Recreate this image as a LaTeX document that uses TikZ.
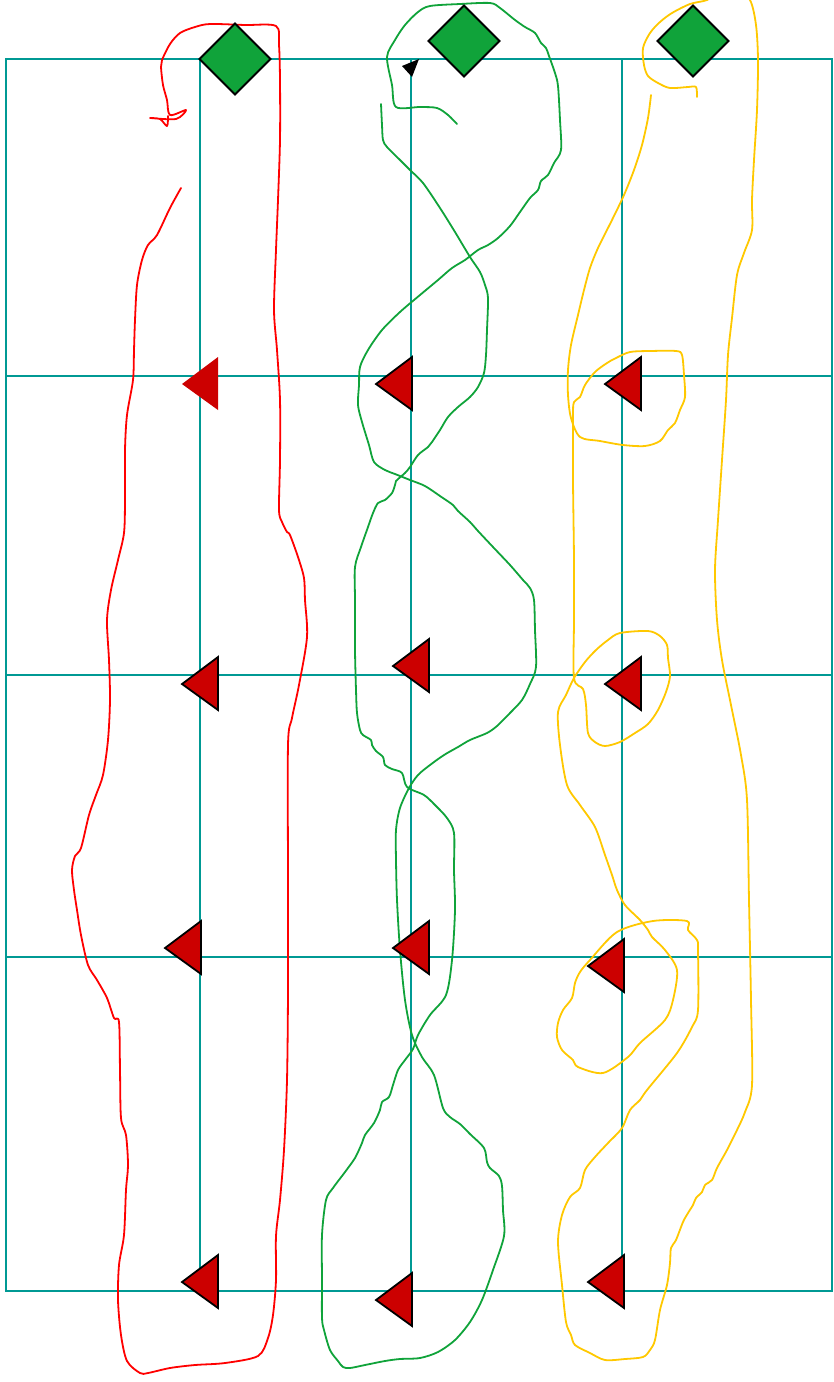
\documentclass[tikz,border=0pt]{standalone}
\definecolor{gridc}{RGB}{0,153,148}
\definecolor{gcurve}{RGB}{16,163,58}
\definecolor{dfill}{RGB}{16,163,58}
\definecolor{rcurve}{RGB}{255,0,0}
\definecolor{tfill}{RGB}{204,0,0}
\definecolor{ycurve}{RGB}{255,200,0}
\tikzset{
  gridline/.style={draw=gridc, line width=2pt},
  gridouter/.style={draw=gridc, line width=2.5pt},
  curve/.style={line width=1.8pt, line join=round, line cap=round},
  tri/.style={fill=tfill, draw=black, line width=1.8pt, line join=miter},
  trinoline/.style={fill=tfill},
  dia/.style={fill=dfill, draw=black, line width=1.8pt, line join=miter}
}
\newcommand\redtri[2]{\path[tri] (#1,#2) -- ++(36,-27) -- ++(0,53) -- cycle;}
\newcommand\gdiam[2]{\path[dia] (#1,#2) ++(-35.5,0) -- ++(35.5,-35.5) -- ++(35.5,35.5) -- ++(-35.5,35.5) -- cycle;}
\begin{document}
\begin{tikzpicture}[x=1pt,y=-1pt]
\useasboundingbox (0,0) rectangle (833,1382);
\clip (0,0) rectangle (833,1382);
% grid
\path[gridline] (200,59) -- (200,1291);
\path[gridline] (411,59) -- (411,1291);
\path[gridline] (622,59) -- (622,1291);
\path[gridline] (6,376) -- (832,376);
\path[gridline] (6,675) -- (832,675);
\path[gridline] (6,957) -- (832,957);
\path[gridouter] (6,59) rectangle (832,1291);
% red curve
\draw[curve, rcurve] plot[smooth, tension=0.5] coordinates {
(181,188) (170,208) (157,235) (148,245) (142,260) (137,285) (135,320) (134,350) (133,380) (127,415) (125,450) (125,500) (124,533) (118,560) (111,590) (107,620) (109,660) (110,700) (108,740) (103,775) (96,795) (89,815) (81,848) (75,856) (72,870) (74,890) (77,910) (81,935) (88,965) (97,980) (107,998) (114,1018) (119,1022) (120,1070) (121,1118) (126,1135) (128,1165) (126,1190) (124,1235) (119,1265) (118,1300) (121,1335) (127,1361) (140,1373) (148,1373) (170,1368) (195,1365) (225,1363) (258,1356) (268,1338) (273,1315) (276,1280) (276,1236) (280,1200) (284,1150) (287,1080) (288,990) (288,880) (288,745) (292,718) (299,685) (307,637) (305,600) (304,578) (298,557) (290,535) (287,532) (282,522) (279,510) (280,460) (280,400) (277,350) (274,310) (276,250) (278,200) (280,140) (280,80) (279,45) (276,26) (245,25) (210,24) (195,27) (180,33) (170,44) (162,60) (161,67) (163,85) (167,100) (170,115) (186,110) (176,119) (150,118) (160,119) (167,126) (168,116)};
% green curve
\draw[curve, gcurve] plot[smooth, tension=0.5] coordinates {
(381,104) (382,125) (383,140) (387,147) (400,160) (410,170) (423,183) (440,208) (455,232) (470,257) (480,272) (485,285) (488,298) (487,330) (486,355) (484,373) (478,387) (470,397) (458,407) (448,417) (440,430) (432,442) (428,447) (418,455) (410,467) (405,473) (396,481) (395,485) (392,493) (385,500) (378,503) (373,513) (368,527) (361,547) (355,567) (355,600) (355,650) (356,690) (357,713) (360,730) (363,735) (371,740) (372,745) (376,751) (383,757) (385,765) (392,769) (402,773) (407,787) (424,795) (435,805) (447,818) (454,833) (454,870) (455,910) (452,960) (446,995) (430,1015) (418,1035) (413,1049) (405,1060) (398,1070) (393,1085) (389,1097) (382,1102) (380,1110) (374,1123) (365,1135) (362,1143) (355,1158) (345,1172) (333,1188) (326,1200) (322,1235) (322,1280) (322,1318) (324,1330) (330,1350) (338,1361) (343,1367) (350,1368) (365,1365) (385,1361) (400,1359) (420,1358) (438,1352) (455,1340) (470,1322) (482,1300) (493,1270) (504,1236) (503,1210) (502,1186) (499,1176) (490,1168) (487,1162) (484,1148) (470,1134) (460,1124) (450,1117) (443,1108) (434,1075) (422,1057) (412,1035) (405,1000) (400,950) (397,900) (396,860) (396,830) (400,808) (409,788) (418,775) (430,765) (444,755) (458,747) (470,740) (487,733) (497,726) (510,713) (522,700) (530,684) (536,667) (535,630) (534,600) (530,588) (523,580) (510,565) (493,547) (478,531) (470,522) (458,511) (453,505) (440,496) (425,486) (410,480) (395,474) (385,470) (374,462) (369,445) (362,422) (358,405) (359,385) (360,367) (368,350) (382,330) (400,312) (420,295) (438,280) (452,268) (465,260) (478,250) (488,245) (498,238) (510,226) (520,212) (530,198) (538,190) (541,181) (548,175) (554,163) (561,150) (560,120) (558,86) (555,73) (549,56) (546,48) (541,43) (535,33) (525,27) (515,20) (500,8) (490,3) (460,4) (430,6) (418,12) (405,25) (395,40) (387,57) (392,85) (396,107) (420,107) (437,108) (448,115) (457,124)};
% yellow curve
\draw[curve, ycurve] plot[smooth, tension=0.5] coordinates {
(651,95) (648,118) (642,145) (634,170) (624,195) (612,220) (598,248) (590,268) (584,290) (578,315) (571,345) (568,370) (568,395) (571,418) (580,437) (600,441) (623,445) (645,446) (660,441) (668,430) (675,423) (680,410) (685,397) (684,375) (682,355) (676,351) (650,351) (630,352) (616,358) (607,363) (595,372) (585,385) (580,397) (574,402) (573,415) (573,480) (574,560) (574,620) (574,678) (583,689) (586,705) (588,733) (595,742) (605,746) (620,742) (635,733) (648,724) (658,710) (666,692) (670,676) (668,658) (667,645) (660,636) (648,631) (620,633) (608,640) (596,650) (585,662) (574,678) (566,695) (558,712) (560,745) (567,785) (580,805) (595,827) (605,855) (612,875) (617,890) (625,905) (640,920) (648,930) (652,937) (665,950) (677,970) (673,1000) (665,1020) (640,1043) (628,1057) (603,1073) (578,1067) (573,1060) (562,1050) (557,1037) (558,1023) (563,1010) (572,998) (575,983) (580,972) (590,960) (617,932) (653,921) (687,921) (688,930) (697,940) (698,950) (698,1010) (692,1027) (677,1053) (647,1090) (640,1100) (630,1110) (622,1128) (608,1143) (595,1157) (585,1170) (580,1188) (570,1197) (562,1215) (558,1242) (562,1285) (566,1322) (571,1335) (575,1345) (590,1353) (605,1360) (625,1359) (643,1357) (650,1350) (655,1340) (660,1310) (667,1285) (670,1263) (671,1248) (676,1240) (683,1222) (688,1213) (693,1205) (696,1198) (702,1192) (705,1185) (712,1180) (717,1168) (727,1150) (737,1130) (745,1112) (752,1085) (751,1000) (749,900) (747,800) (741,755) (731,705) (722,660) (717,620) (715,570) (718,520) (722,460) (726,400) (728,355) (732,318) (737,275) (744,253) (752,230) (752,200) (754,160) (757,110) (758,60) (756,25) (750,0) (735,-15) (718,-8) (707,0) (690,4) (672,13) (660,22) (650,33) (643,48) (644,65) (648,76) (658,83) (670,88) (688,87) (696,87) (697,97)};
% small black arrow tip
\path[fill=black] (419,59) -- (402,66) -- (412,77) -- cycle;
% diamonds
\gdiam{235}{59}
\gdiam{464}{41}
\gdiam{693}{41}
% triangles
\path[trinoline] (182,384) -- ++(36,-27) -- ++(0,53) -- cycle;
\redtri{376}{384}
\redtri{605}{384}
\redtri{182}{684}
\redtri{393}{666}
\redtri{605}{684}
\redtri{165}{948}
\redtri{393}{948}
\redtri{588}{966}
\redtri{182}{1282}
\redtri{376}{1300}
\redtri{588}{1282}
\end{tikzpicture}
\end{document}
